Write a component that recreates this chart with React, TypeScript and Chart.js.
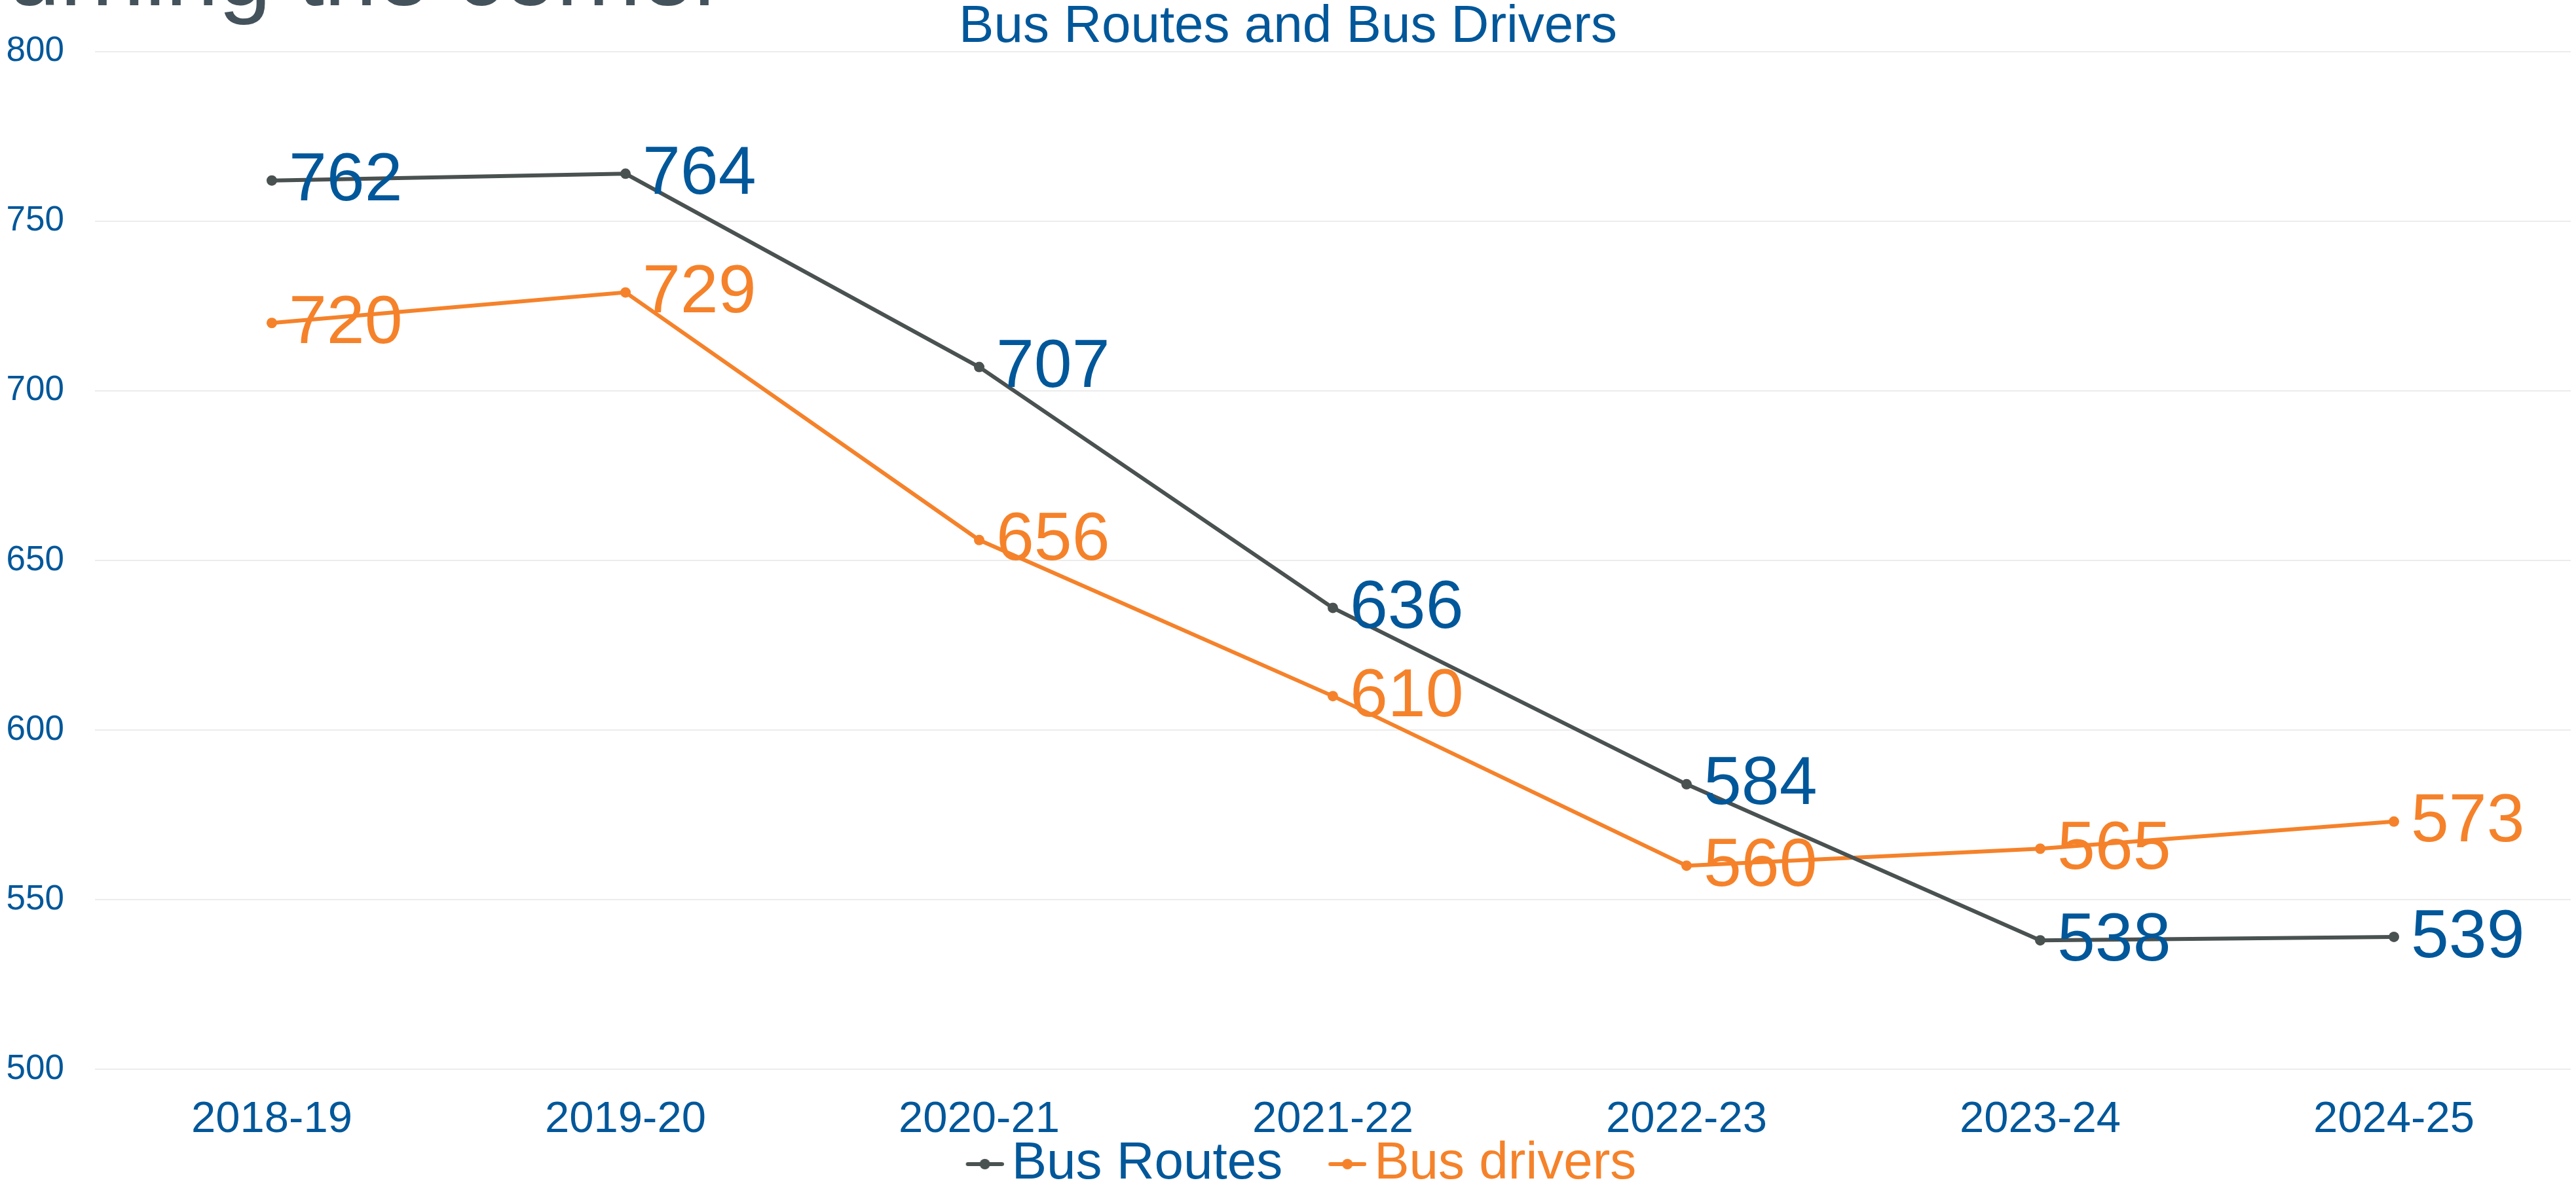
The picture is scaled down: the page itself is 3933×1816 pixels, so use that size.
import React, { useEffect, useRef } from "react";
import { Chart, registerables } from "chart.js";

Chart.register(...registerables);

const categories = ["2018-19", "2019-20", "2020-21", "2021-22", "2022-23", "2023-24", "2024-25"];
const busRoutes = [762, 764, 707, 636, 584, 538, 539];
const busDrivers = [720, 729, 656, 610, 560, 565, 573];
const yTicks = [500, 550, 600, 650, 700, 750, 800];
const seriesNames = ["Bus Routes", "Bus drivers"];
const chartTitle = "Bus Routes and Bus Drivers";
const pageHeading = "Turning the corner";

const FONT = "'Liberation Sans', Arial, Helvetica, sans-serif";
const BLUE = "#00579a";
const ORANGE = "#f5822a";
const GREY = "#4a5151";

const W = 3933;
const H = 1816;
const CANVAS_H = 1828;

function makeMarker(color: string, bw: number) {
  const c = document.createElement("canvas");
  const w = bw + 56;
  c.width = w;
  c.height = 24;
  const ctx = c.getContext("2d")!;
  ctx.strokeStyle = color;
  ctx.fillStyle = color;
  ctx.lineWidth = 6;
  ctx.lineCap = "round";
  ctx.beginPath();
  ctx.moveTo(w - 55, 12);
  ctx.lineTo(w - 3, 12);
  ctx.stroke();
  ctx.beginPath();
  ctx.arc(w - 29, 12, 8, 0, Math.PI * 2);
  ctx.fill();
  return c;
}

const dataLabelPlugin = {
  id: "dataLabels",
  afterDatasetsDraw(chart: any) {
    const ctx = chart.ctx;
    ctx.save();
    ctx.font = `104px ${FONT}`;
    ctx.textAlign = "left";
    ctx.textBaseline = "middle";
    chart.data.datasets.forEach((ds: any, di: number) => {
      const meta = chart.getDatasetMeta(di);
      ctx.fillStyle = ds.labelColor;
      meta.data.forEach((pt: any, i: number) => {
        ctx.fillText(String(ds.data[i]), pt.x + 26, pt.y + 2);
      });
    });
    ctx.restore();
  },
};

export default function App() {
  const ref = useRef<HTMLCanvasElement>(null);

  useEffect(() => {
    document.body.style.margin = "0";
    const LEG_PAD = 30;
    const BW = 100 - LEG_PAD;
    const markers = [makeMarker(GREY, BW), makeMarker(ORANGE, BW)];
    const legendColors = [BLUE, ORANGE];

    const chart = new Chart(ref.current!, {
      type: "line",
      data: {
        labels: categories,
        datasets: [
          {
            label: seriesNames[0],
            data: busRoutes,
            borderColor: GREY,
            backgroundColor: GREY,
            borderWidth: 6,
            pointRadius: 8,
            pointBorderWidth: 0,
            pointBackgroundColor: GREY,
            tension: 0,
            labelColor: BLUE,
          } as any,
          {
            label: seriesNames[1],
            data: busDrivers,
            borderColor: ORANGE,
            backgroundColor: ORANGE,
            borderWidth: 6,
            pointRadius: 8,
            pointBorderWidth: 0,
            pointBackgroundColor: ORANGE,
            tension: 0,
            labelColor: ORANGE,
          } as any,
        ],
      },
      options: {
        animation: false,
        responsive: false,
        devicePixelRatio: 1,
        layout: { padding: { left: 0, right: 0, top: 0, bottom: 0 } },
        scales: {
          x: {
            offset: true,
            grid: { display: false, drawTicks: false },
            border: { display: false },
            ticks: {
              color: BLUE,
              font: { family: FONT, size: 67 },
              mirror: true,
              padding: -118,
              maxRotation: 0,
              autoSkip: false,
            },
            afterFit: (s: any) => {
              s.height = 75;
            },
          },
          y: {
            min: 500,
            max: 800,
            afterBuildTicks: (s: any) => {
              s.ticks = yTicks.map((v) => ({ value: v }));
            },
            grid: { color: "#ececec", lineWidth: 2, drawTicks: false },
            border: { display: false },
            ticks: {
              color: BLUE,
              font: { family: FONT, size: 53 },
              padding: 47,
            },
            afterFit: (s: any) => {
              s.width = 145;
            },
          },
        },
        plugins: {
          title: {
            display: true,
            text: chartTitle,
            color: BLUE,
            font: { family: FONT, size: 80, weight: "normal", lineHeight: 0.9125 },
            padding: { top: 0, bottom: 0 },
          },
          legend: {
            display: true,
            position: "bottom",
            labels: {
              usePointStyle: true,
              pointStyleWidth: BW,
              padding: LEG_PAD,
              font: { family: FONT, size: 80 },
              generateLabels: (c: any) =>
                c.data.datasets.map((ds: any, i: number) => ({
                  text: ds.label,
                  fontColor: legendColors[i],
                  fillStyle: "transparent",
                  strokeStyle: "transparent",
                  lineWidth: 0,
                  pointStyle: markers[i],
                  hidden: false,
                  datasetIndex: i,
                })),
            },
          },
          tooltip: { enabled: false },
        },
      } as any,
      plugins: [dataLabelPlugin],
    });
    return () => chart.destroy();
  }, []);

  return (
    <div style={{ position: "fixed", left: 0, top: 0, width: W, height: H, overflow: "hidden", background: "#fff" }}>
      <canvas ref={ref} width={W} height={CANVAS_H} style={{ position: "absolute", left: 0, top: 0, width: W, height: CANVAS_H }} />
      <div
        style={{
          position: "absolute",
          left: -72,
          top: -114,
          fontFamily: FONT,
          fontSize: 145,
          lineHeight: 1,
          color: "#44525c",
          whiteSpace: "nowrap",
        }}
      >
        {pageHeading}
      </div>
    </div>
  );
}
